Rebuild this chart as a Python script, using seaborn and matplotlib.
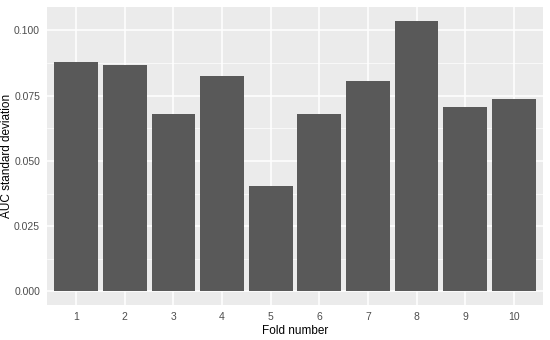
import matplotlib
matplotlib.use("Agg")
import matplotlib.pyplot as plt
import seaborn as sns
import pandas as pd
from matplotlib.ticker import MultipleLocator, FormatStrFormatter

folds = ["1", "2", "3", "4", "5", "6", "7", "8", "9", "10"]
auc_sd = [0.0879, 0.0867, 0.0681, 0.0825, 0.0403, 0.0679, 0.0806, 0.1038, 0.0708, 0.0736]

df = pd.DataFrame({"Fold": folds, "AUC_sd": auc_sd})

sns.set_theme(style="darkgrid")
plt.rcParams["font.family"] = ["Liberation Sans", "DejaVu Sans"]

fig = plt.figure(figsize=(5.5, 3.4), dpi=100)
ax = fig.add_axes([47 / 550, 35 / 340, 496 / 550, 298 / 340])
ax.set_facecolor("#EBEBEB")

sns.barplot(data=df, x="Fold", y="AUC_sd", order=folds, color="#595959",
            saturation=1, width=0.9, linewidth=0, ax=ax, zorder=3)

ymax = max(auc_sd)
ax.set_xlim(-0.6, len(folds) - 0.4)
ax.set_ylim(-0.05 * ymax, ymax * 1.05)
ax.yaxis.set_major_locator(MultipleLocator(0.025))
ax.yaxis.set_minor_locator(MultipleLocator(0.0125))
ax.yaxis.set_major_formatter(FormatStrFormatter("%.3f"))

ax.grid(which="major", color="white", linewidth=1.1, zorder=0)
ax.grid(which="minor", axis="y", color="white", linewidth=0.5, zorder=0)
ax.set_axisbelow(True)
for s in ax.spines.values():
    s.set_visible(False)

ax.tick_params(axis="both", which="major", length=3, width=0.8, color="#333333",
               labelsize=7.5, labelcolor="#4D4D4D", pad=2)
ax.tick_params(axis="y", which="minor", length=0)

ax.set_xlabel("Fold number", fontsize=8.5, color="black", labelpad=2)
ax.set_ylabel("AUC standard deviation", fontsize=8.5, color="black")
ax.yaxis.set_label_coords(-0.068, 0.5)

fig.savefig("out.png", dpi=100)
